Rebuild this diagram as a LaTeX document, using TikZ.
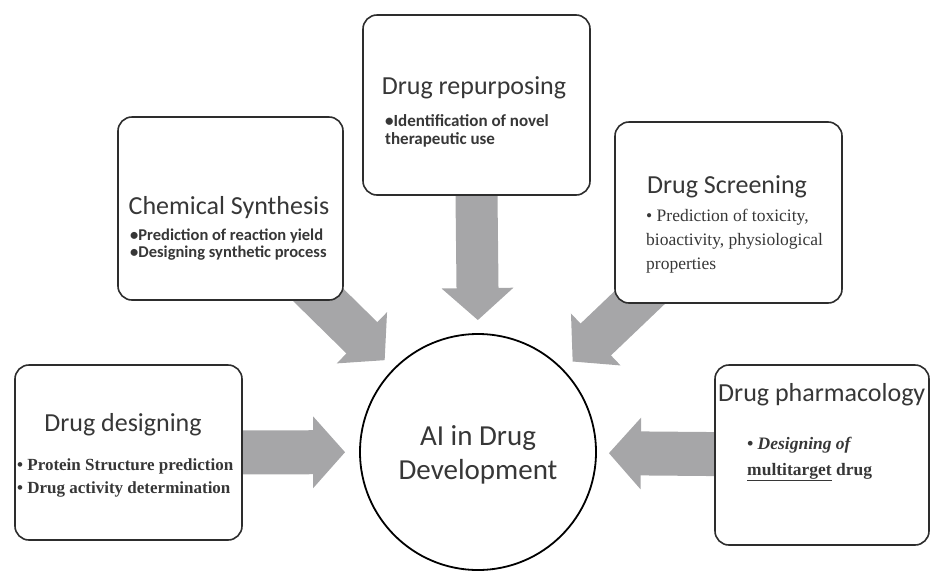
\documentclass[tikz,border=0pt]{standalone}
\usepackage{fontspec}
\setmainfont{Carlito}
\newfontfamily\serif{Liberation Serif}
\usetikzlibrary{arrows.meta,backgrounds}

\definecolor{arrowgray}{RGB}{166,166,168}
\definecolor{boxline}{RGB}{45,45,45}
\definecolor{textgray}{RGB}{55,55,55}

\tikzset{
  panel/.style={draw=boxline, line width=1.6pt, rounded corners=14pt, fill=white,
    inner sep=0pt, minimum width=227pt, minimum height=180pt},
  bigarrow/.style={arrowgray, line width=44pt, shorten <=-30pt,
    -{Triangle[length=32pt,width=70pt]}},
  title/.style={text=textgray, font=\fontsize{26}{30}\selectfont, inner sep=0pt},
  bullets/.style={text=textgray, align=left, inner sep=0pt},
}

\begin{document}
\begin{tikzpicture}[x=1pt,y=-1pt]
  \useasboundingbox (0,0) rectangle (931,571);

  % boxes
  \node[panel] (repurp) at (476.5,105) {};
  \node[panel, minimum width=225pt, minimum height=183pt] (chem) at (230.5,208.5) {};
  \node[panel, minimum height=181pt] (screen) at (728.5,212.5) {};
  \node[panel, minimum height=175pt] (design) at (128.5,452.5) {};
  \node[panel, minimum width=214pt] (pharma) at (822,455) {};

  % centre
  \node[circle, draw=black, line width=1.8pt, fill=white, inner sep=0pt,
    minimum size=236pt] (ai) at (478,452) {};
  \node[align=center, text=textgray, font=\fontsize{29}{34}\selectfont] (aitext)
    at (478,455) {AI in Drug\\Development};

  % arrows
  \begin{scope}[on background layer]
    \draw[bigarrow, line width=42pt, shorten >=13pt] (repurp.south) -- (ai.north);
    \draw[bigarrow, shorten >=12pt] (chem) -- (ai);
    \draw[bigarrow, shorten >=12pt] (screen) -- (ai);
    \draw[bigarrow, shorten >=14pt] (design) -- (ai);
    \draw[bigarrow, shorten >=12pt] (pharma) -- (ai);
  \end{scope}

  % texts
  \node[title] (repurptitle) at (474,88) {Drug repurposing};
  \node[bullets, anchor=west, font=\fontsize{17}{18}\selectfont\bfseries]
    (repurptext) at (385,131) {•Identification of novel\\therapeutic use};

  \node[title] (chemtitle) at (229,208) {Chemical Synthesis};
  \node[bullets, anchor=west, font=\fontsize{16.5}{17}\selectfont\bfseries]
    (chemtext) at (130,245) {•Prediction of reaction yield\\•Designing synthetic process};

  \node[title] (screentitle) at (727,187) {Drug Screening};
  \node[bullets, anchor=west, font=\serif\fontsize{17.5}{24}\selectfont]
    (screentext) at (646,241) {• Prediction of toxicity,\\bioactivity, physiological\\properties};

  \node[title] (designtitle) at (123,425) {Drug designing};
  \node[bullets, anchor=west, font=\serif\fontsize{17}{23}\selectfont\bfseries]
    (designtext) at (17,478) {• Protein Structure prediction\\• Drug activity determination};

  \node[title, anchor=west] (pharmatitle) at (718,395) {Drug pharmacology};
  \node[bullets, anchor=west, font=\serif\fontsize{17.5}{26}\selectfont\bfseries]
    (pharmatext) at (747,459) {\textit{• Designing of}\\\underline{multitarget} drug};
\end{tikzpicture}
\end{document}
